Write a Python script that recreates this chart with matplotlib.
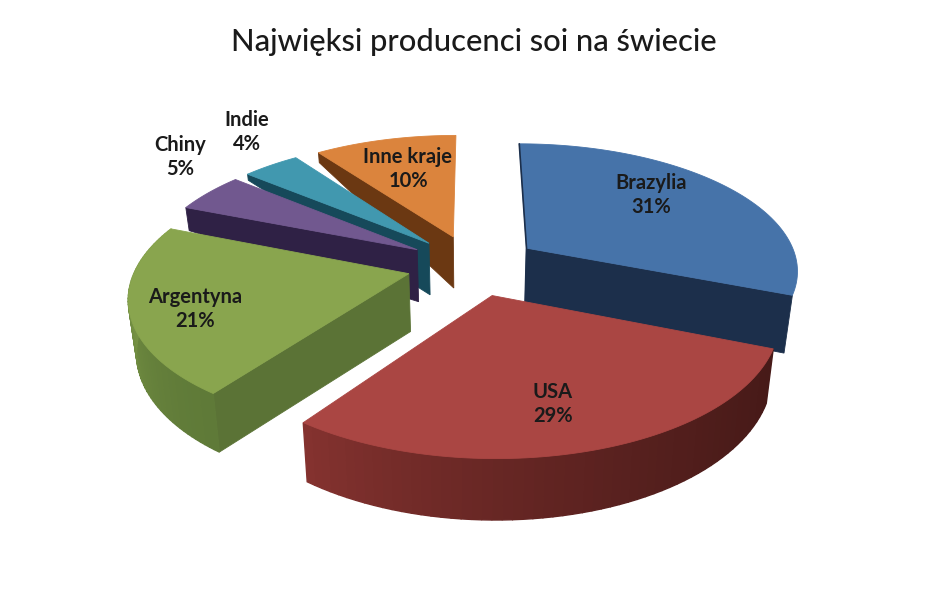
import numpy as np
import matplotlib
matplotlib.use('Agg')
import matplotlib.pyplot as plt
from matplotlib.patches import Polygon
from matplotlib.colors import to_rgb

# chart data, clockwise from 12 o'clock
categories = ['Brazylia', 'USA', 'Argentyna', 'Chiny', 'Indie', 'Inne kraje']
values = [31, 29, 21, 5, 4, 10]
title = 'Najwięksi producenci soi na świecie'

# colours
top_colors = ['#4673a9', '#aa4643', '#89a54e', '#71588f', '#4198af', '#db843d']
cut_colors = ['#1c2f4b', '#5a1f1d', '#5b7336', '#2f2145', '#16495a', '#6b3812']
arc_colors = {1: ('#84322f', '#471a18'), 2: ('#8ba84f', '#5f7a38')}

# thickness of each slice, and of the far corner of its cut face
thick = [1.05, 0.93, 1.08, 1.0, 1.0, 1.0]
corner_z = [1.0, 1.0, 0.88, 0.47, 0.13, 0.22]
label_xy = [(651, 195), (553, 404), (195, 309), (180, 157), (247, 132), (408, 169)]

# squashed perspective of the pie plane
cx, cy = 473, 265
R, Rq = 272, 126
k = 0.16
explode = 0.243
depth = 53


def project(u, v, z=0.0):
    s = 1 / (1 + k * v)
    x = cx + R * u * s * (1 - 0.025 * z)
    y = cy - Rq * v * s + depth * s * z
    return x, y


def arc(a0, a1, off, z=0.0, n=80):
    t = np.radians(np.linspace(a0, a1, n))
    return project(off[0] + np.cos(t), off[1] + np.sin(t), z)


def poly(ax, xs, ys, color, zorder, lw=0.6):
    ax.add_patch(Polygon(np.column_stack([xs, ys]), closed=True, facecolor=color,
                         edgecolor=color, linewidth=lw, zorder=zorder))


fig = plt.figure(figsize=(9.48, 5.93), dpi=100)
ax = fig.add_axes([0, 0, 1, 1])
ax.set_xlim(0, 948)
ax.set_ylim(593, 0)
ax.axis('off')

# angles come from the values
edges = 90 - 3.6 * np.concatenate([[0], np.cumsum(values)])
draw_order = {5: 1, 4: 2, 3: 3, 2: 4, 0: 5, 1: 6}

for i, name in enumerate(categories):
    a0, a1 = edges[i], edges[i + 1]
    mid = np.radians((a0 + a1) / 2)
    off = (explode * np.cos(mid), explode * np.sin(mid))
    zo = draw_order[i] * 10
    th = thick[i]

    # cut face: the edge facing the viewer
    t = np.radians(a1 if i < 2 else a0)
    ox, oy = off[0] + np.cos(t), off[1] + np.sin(t)
    ax_top = project(off[0], off[1])
    ax_bot = project(off[0], off[1], th)
    c_top = project(ox, oy)
    c_bot = project(ox, oy, th * corner_z[i])
    if i != 1:
        poly(ax, [ax_top[0], ax_bot[0], c_bot[0], c_top[0]],
             [ax_top[1], ax_bot[1], c_bot[1], c_top[1]], cut_colors[i], zo)

    # outer wall, shaded strip by strip
    if i in arc_colors:
        n = 60
        xt, yt = arc(a0, a1, off, 0, n)
        xb, yb = arc(a0, a1, off, th * corner_z[i], n)
        c0, c1 = [np.array(to_rgb(c)) for c in arc_colors[i]]
        for j in range(n - 1):
            # j runs clockwise, so USA goes right to left and Argentyna front to back
            f = (j / (n - 2)) ** 1.5
            col = c1 + (c0 - c1) * f
            poly(ax, [xt[j], xt[j + 1], xb[j + 1], xb[j]],
                 [yt[j], yt[j + 1], yb[j + 1], yb[j]], col, zo + 1, lw=1.0)

    # top face
    xa, ya = arc(a0, a1, off)
    poly(ax, np.r_[ax_top[0], xa], np.r_[ax_top[1], ya], top_colors[i], zo + 2)

    # thin dark rim on the left of Brazylia
    if i == 0:
        ax.plot([xa[0], ax_top[0], ax_bot[0]], [ya[0], ax_top[1], ax_bot[1]],
                color=cut_colors[0], lw=1.2, zorder=zo + 3, solid_capstyle='round')

    ax.text(label_xy[i][0], label_xy[i][1], '%s\n%d%%' % (name, values[i]),
            ha='center', va='center', fontsize=14.5, fontweight='bold',
            family='Lato', color='#1a1a1a', linespacing=1.2, zorder=100)

ax.text(474, 42, title, ha='center', va='center', fontsize=22.2,
        family='Lato', fontweight='medium', color='#1a1a1a')

fig.savefig('out.png', dpi=100, facecolor='white')
